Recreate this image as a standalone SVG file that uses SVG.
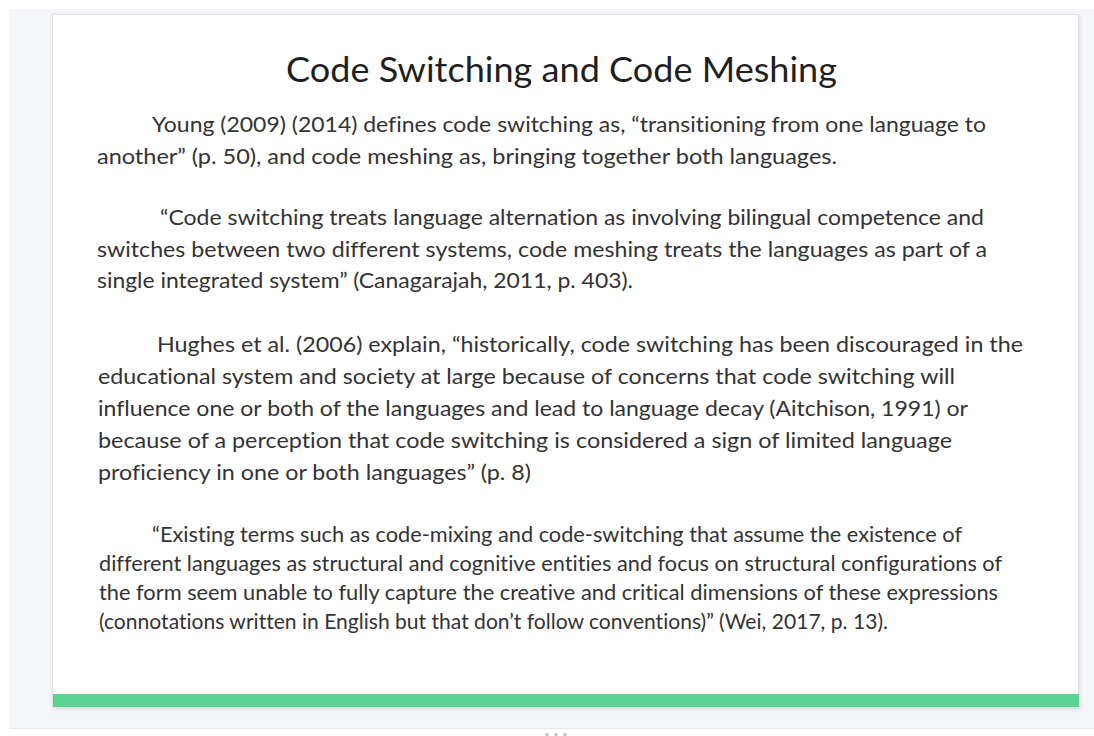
<svg xmlns="http://www.w3.org/2000/svg" width="1094" height="736" viewBox="0 0 1094 736">
  <defs>
    <style>
      text { font-variant-ligatures: none; font-feature-settings: "liga" 0, "clig" 0; }
      .title { font-family: Lato, "Liberation Sans", sans-serif; font-weight: 400; font-size: 34px; fill: #1f1f1f; }
      .body { font-family: Lato, "Liberation Sans", sans-serif; font-size: 22px; fill: #333; }
      .small { font-family: Lato, "Liberation Sans", sans-serif; font-size: 21px; fill: #333; }
    </style>
    <filter id="sh" x="-5%" y="-5%" width="110%" height="110%">
      <feDropShadow dx="1" dy="2" stdDeviation="2" flood-color="#000" flood-opacity="0.12"/>
    </filter>
  </defs>
  <rect x="0" y="0" width="1094" height="736" fill="#ffffff"/>
  <rect x="9" y="9" width="1085" height="719" fill="#f4f6f9"/>
  <line x1="9" y1="728.5" x2="1094" y2="728.5" stroke="#e4e6e9" stroke-width="1"/>
  <g id="slide">
    <rect x="52.5" y="14.5" width="1026" height="692" fill="#ffffff" stroke="#dfe1e4" stroke-width="1" filter="url(#sh)"/>
    <rect x="53" y="694" width="1026" height="13" fill="#5ad393"/>
  </g>
  <g id="text">
    <text class="title" x="561.5" y="82" text-anchor="middle" textLength="551" lengthAdjust="spacingAndGlyphs">Code Switching and Code Meshing</text>
    <text class="body" x="152" y="132" textLength="834" lengthAdjust="spacingAndGlyphs">Young (2009) (2014) defines code switching as, “transitioning from one language to</text>
    <text class="body" x="97" y="164" textLength="740" lengthAdjust="spacingAndGlyphs">another” (p. 50), and code meshing as, bringing together both languages.</text>
    <text class="body" x="160" y="225" textLength="824" lengthAdjust="spacingAndGlyphs">“Code switching treats language alternation as involving bilingual competence and</text>
    <text class="body" x="97" y="257" textLength="890" lengthAdjust="spacingAndGlyphs">switches between two different systems, code meshing treats the languages as part of a</text>
    <text class="body" x="97" y="288" textLength="536" lengthAdjust="spacingAndGlyphs">single integrated system” (Canagarajah, 2011, p. 403).</text>
    <text class="body" x="157" y="352" textLength="866" lengthAdjust="spacingAndGlyphs">Hughes et al. (2006) explain, “historically, code switching has been discouraged in the</text>
    <text class="body" x="98" y="384" textLength="857" lengthAdjust="spacingAndGlyphs">educational system and society at large because of concerns that code switching will</text>
    <text class="body" x="98" y="416" textLength="870" lengthAdjust="spacingAndGlyphs">influence one or both of the languages and lead to language decay (Aitchison, 1991) or</text>
    <text class="body" x="98" y="448" textLength="854" lengthAdjust="spacingAndGlyphs">because of a perception that code switching is considered a sign of limited language</text>
    <text class="body" x="98" y="480" textLength="433" lengthAdjust="spacingAndGlyphs">proficiency in one or both languages” (p. 8)</text>
    <text class="small" x="152" y="542" textLength="810" lengthAdjust="spacingAndGlyphs">“Existing terms such as code-mixing and code-switching that assume the existence of</text>
    <text class="small" x="99" y="571" textLength="903" lengthAdjust="spacingAndGlyphs">different languages as structural and cognitive entities and focus on structural configurations of</text>
    <text class="small" x="99" y="600" textLength="899" lengthAdjust="spacingAndGlyphs">the form seem unable to fully capture the creative and critical dimensions of these expressions</text>
    <text class="small" x="99" y="629" textLength="789" lengthAdjust="spacingAndGlyphs">(connotations written in English but that don’t follow conventions)” (Wei, 2017, p. 13).</text>
  </g>
  <g id="dots" fill="#c4c6c9">
    <circle cx="547" cy="734.5" r="1.8"/>
    <circle cx="556" cy="734.5" r="1.8"/>
    <circle cx="565" cy="734.5" r="1.8"/>
  </g>
</svg>
